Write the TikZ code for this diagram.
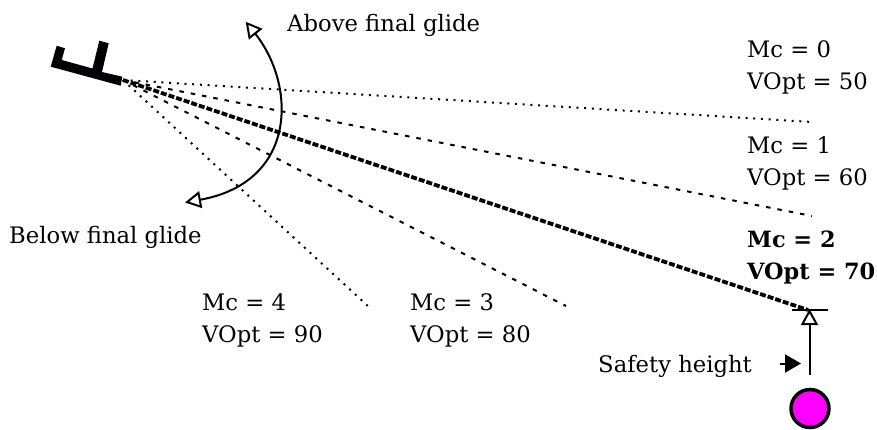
\documentclass[tikz,border=0pt]{standalone}
\usepackage{fontspec}
\setmainfont{DejaVu Serif}
\usetikzlibrary{arrows.meta}
\tikzset{
  lbl/.style={anchor=west,inner sep=0pt,align=left,font=\fontsize{22.7}{32}\selectfont},
  openhead/.style={-{Triangle[open,length=16pt,width=17pt,line width=2pt,fill=white]}},
  glide/.style={line width=2pt,line cap=butt},
  dotline/.style={line width=2pt,dash pattern=on 2pt off 5.7pt},
  dashline/.style={line width=2pt,dash pattern=on 4.5pt off 7pt},
  boldline/.style={line width=3.8pt,dash pattern=on 6pt off 2pt},
}
\definecolor{wp}{RGB}{255,0,255}
\begin{document}
\begin{tikzpicture}[x=1pt,y=-1pt]
\useasboundingbox (0,0) rectangle (877,430);
% glider
\fill[black!98!blue] (50.7,66.7) -- (56.7,45.7) -- (65,48.3) -- (61.7,60) -- (92.5,68.5) -- (99.3,40.7) -- (108.7,43.3) -- (102,72) -- (122.3,76.7) -- (120.7,85.7) -- cycle;
\coordinate (origin) at (123,80);
\coordinate (m0) at (812,122);
\coordinate (m1) at (812,216);
\coordinate (m2) at (808,310);
\coordinate (m3) at (566,306);
\coordinate (m4) at (370,308);
\draw[dotline] (origin) -- (m0);
\draw[dashline] (origin) -- (m1);
\draw[boldline] (origin) -- (m2);
\draw[dashline] (origin) -- (m3);
\draw[dotline] (origin) -- (m4);
% arc
\coordinate (above) at (245.7,21.7);
\coordinate (below) at (185,202.5);
\draw[glide,{Triangle[open,length=16pt,width=17pt,line width=2pt,fill=white]}-{Triangle[open,length=16pt,width=17pt,line width=2pt,fill=white]}]
  (above) .. controls (296,85) and (298,182) .. (below);
% safety
\coordinate (sl) at (792,310);
\coordinate (sr) at (828,310);
\draw[line width=2pt] (sl) -- (sr);
\node[circle,draw=black,line width=3.5pt,fill=wp,minimum size=38pt,inner sep=0pt] (wpt) at (810,408.5) {};
\coordinate (sb) at (809.5,375);
\coordinate (st) at (809.5,309);
\draw[glide,openhead] (sb) -- (st);
\coordinate (pa) at (780,363.5);
\coordinate (pb) at (801,363.5);
\draw[line width=2pt,-{Triangle[length=16pt,width=18pt]}] (pa) -- (pb);
% labels
\node[lbl] (t1) at (287,25.5) {Above final glide};
\node[lbl] (t2) at (9,237.5) {Below final glide};
\node[lbl] (t3) at (598,366) {Safety height};
\node[lbl] (m0t) at (747,67) {Mc = 0\\VOpt = 50};
\node[lbl] (m1t) at (747,163.5) {Mc = 1\\VOpt = 60};
\node[lbl,font=\fontsize{22.4}{32}\selectfont\bfseries] (m2t) at (747,257.5) {Mc = 2\\VOpt = 70};
\node[lbl] (m3t) at (410,320) {Mc = 3\\VOpt = 80};
\node[lbl] (m4t) at (202,320) {Mc = 4\\VOpt = 90};
\end{tikzpicture}
\end{document}
